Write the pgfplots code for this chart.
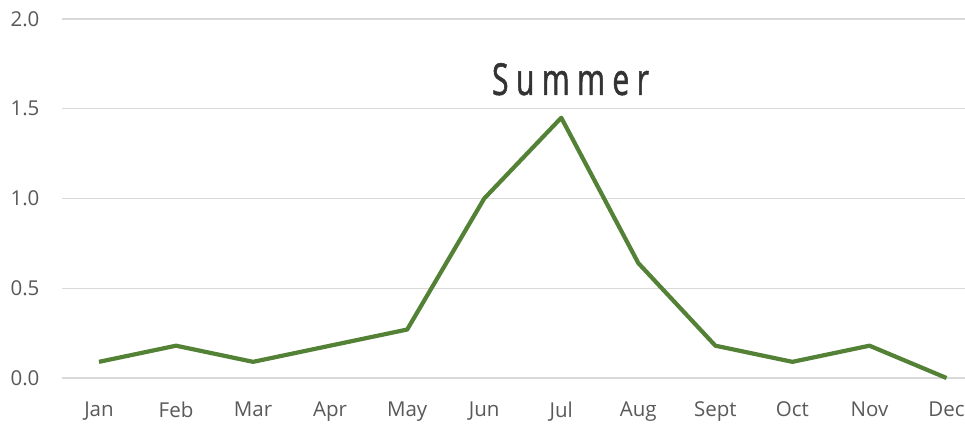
\documentclass[border=0pt]{standalone}
\usepackage{fontspec}
\setmainfont{Open Sans}
\newfontfamily\titlefont[FakeStretch=0.68, FakeBold=1.2, LetterSpace=17]{Open Sans}
\usepackage{pgfplots}
\pgfplotsset{compat=1.18}
\definecolor{linegreen}{HTML}{538135}
\definecolor{gridgray}{HTML}{D9D9D9}
\definecolor{labelgray}{HTML}{595959}
\begin{document}
\begin{tikzpicture}[x=1pt,y=1pt]
\useasboundingbox (0,0) rectangle (965,423);
\begin{axis}[
  at={(62pt,45pt)}, anchor=south west,
  width=903pt, height=359pt, scale only axis,
  xmin=-0.48, xmax=11.24, ymin=0, ymax=2,
  axis line style={draw=none},
  tick style={draw=none},
  ymajorgrids, grid style={color=gridgray, line width=1.3pt},
  ytick={0,0.5,1,1.5,2},
  yticklabel style={/pgf/number format/fixed, /pgf/number format/fixed zerofill, /pgf/number format/precision=1, anchor=east, xshift=-19pt},
  xtick={0,...,11},
  xticklabels={Jan,Feb,Mar,Apr,May,Jun,Jul,Aug,Sept,Oct,Nov,Dec},
  xticklabel style={anchor=north, yshift=-20pt},
  /pgf/number format/assume math mode=true,
  tick label style={font=\fontsize{20.5}{24}\selectfont, text=labelgray},
  clip=false,
]
\addplot[color=linegreen, line width=4.2pt, line join=round] coordinates {
(0,0.09) (1,0.18) (2,0.09) (3,0.18) (4,0.27) (5,1.0) (6,1.45) (7,0.64) (8,0.18) (9,0.09) (10,0.18) (11,0.0)
};
\node[anchor=base, text=black!80, font=\titlefont\fontsize{44}{50}\selectfont] at (axis cs:6.12,1.577) {Summer};
\end{axis}
\end{tikzpicture}
\end{document}
